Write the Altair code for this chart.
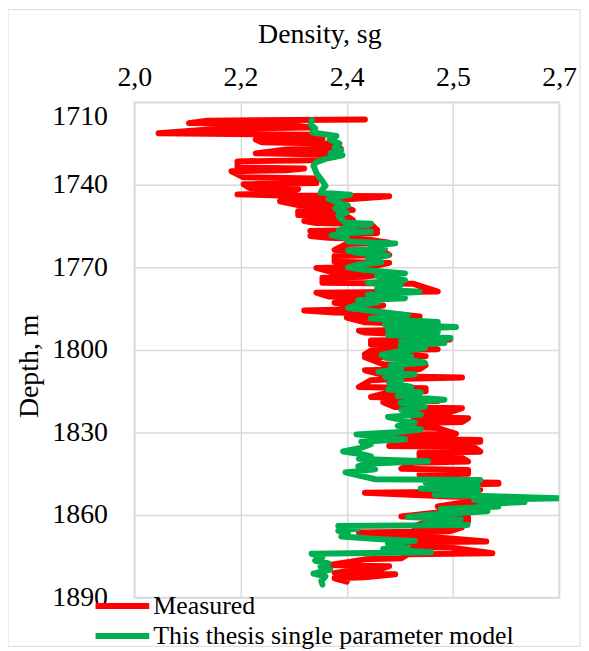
import altair as alt
import pandas as pd

# ---------------- data ----------------
series_names = ["Measured", "This thesis single parameter model"]
series_colors = ["#ff0000", "#00b050"]

density_ticks = [2.0, 2.175, 2.35, 2.525, 2.7]
density_tick_labels = ["2,0", "2,2", "2,4", "2,5", "2,7"]
depth_ticks = [1710, 1740, 1770, 1800, 1830, 1860, 1890]

meas_depth = [
    1716.3, 1716.7, 1717.6, 1718.1, 1719.2, 1719.6, 1721.3, 1721.8, 1723.2, 1723.6,
    1724.6, 1725.0, 1726.8, 1727.2, 1728.6, 1729.0, 1731.1, 1731.5, 1733.7, 1734.1,
    1734.7, 1735.1, 1737.3, 1737.7, 1739.4, 1739.8, 1741.2, 1741.6, 1743.1, 1743.5,
    1743.9, 1744.2, 1745.6, 1746.0, 1747.4, 1747.8, 1749.2, 1749.6, 1751.0, 1751.4,
    1752.8, 1753.2, 1753.9, 1754.3, 1756.4, 1756.8, 1757.1, 1757.5, 1758.2, 1758.6,
    1759.3, 1759.7, 1761.1, 1761.5, 1763.7, 1764.1, 1765.5, 1765.9, 1768.0, 1768.4,
    1769.8, 1770.2, 1772.0, 1772.4, 1773.4, 1773.8, 1775.6, 1776.0, 1778.8, 1779.2,
    1780.6, 1781.0, 1782.5, 1782.9, 1783.5, 1783.9, 1785.3, 1785.7, 1786.4, 1786.8,
    1787.9, 1788.3, 1790.0, 1790.4, 1792.6, 1793.0, 1793.7, 1794.1, 1796.2, 1796.6,
    1798.0, 1798.4, 1799.8, 1800.2, 1801.6, 1802.0, 1802.3, 1802.7, 1805.2, 1805.6,
    1807.0, 1807.4, 1809.6, 1810.0, 1810.6, 1811.0, 1813.5, 1813.9, 1815.0, 1815.4,
    1817.1, 1817.5, 1818.6, 1819.0, 1820.8, 1821.2, 1822.6, 1823.0, 1824.4, 1824.8,
    1826.2, 1826.6, 1828.0, 1828.4, 1830.5, 1830.9, 1832.3, 1832.7, 1833.4, 1833.8,
    1834.9, 1835.3, 1837.0, 1837.4, 1838.8, 1839.2, 1840.6, 1841.0, 1843.2, 1843.6,
    1845.0, 1845.4, 1846.8, 1847.2, 1847.9, 1848.3, 1848.6, 1849.0, 1850.4, 1850.8,
    1851.5, 1851.9, 1853.3, 1853.7, 1855.1, 1855.5, 1856.9, 1857.3, 1858.7, 1859.1,
    1860.5, 1860.9, 1862.3, 1862.7, 1864.1, 1864.5, 1865.9, 1866.3, 1867.8, 1868.2,
    1869.6, 1870.0, 1871.4, 1871.8, 1873.9, 1874.3, 1875.7, 1876.1, 1878.2, 1878.6,
    1880.0, 1880.4, 1881.1, 1881.5, 1882.6, 1883.0, 1884.2,
]
meas_density = [
    2.38, 2.12, 2.09, 2.25, 2.29, 2.14, 2.04, 2.29, 2.31, 2.20,
    2.21, 2.32, 2.34, 2.25, 2.20, 2.32, 2.30, 2.17, 2.17, 2.28,
    2.25, 2.16, 2.18, 2.30, 2.30, 2.18, 2.19, 2.27, 2.25, 2.17,
    2.24, 2.42, 2.33, 2.24, 2.27, 2.34, 2.36, 2.27, 2.27, 2.35,
    2.36, 2.28, 2.30, 2.39, 2.40, 2.29, 2.31, 2.40, 2.35, 2.29,
    2.32, 2.38, 2.42, 2.35, 2.33, 2.41, 2.42, 2.33, 2.33, 2.42,
    2.39, 2.30, 2.33, 2.41, 2.38, 2.31, 2.31, 2.46, 2.50, 2.30,
    2.32, 2.39, 2.38, 2.33, 2.35, 2.41, 2.35, 2.28, 2.33, 2.42,
    2.47, 2.35, 2.38, 2.44, 2.48, 2.37, 2.38, 2.43, 2.52, 2.39,
    2.39, 2.46, 2.50, 2.39, 2.38, 2.46, 2.48, 2.38, 2.41, 2.48,
    2.47, 2.38, 2.42, 2.54, 2.43, 2.39, 2.37, 2.48, 2.48, 2.42,
    2.39, 2.44, 2.50, 2.41, 2.43, 2.54, 2.52, 2.46, 2.46, 2.55,
    2.54, 2.46, 2.45, 2.50, 2.53, 2.41, 2.46, 2.57, 2.57, 2.47,
    2.42, 2.56, 2.57, 2.47, 2.47, 2.54, 2.55, 2.46, 2.44, 2.55,
    2.55, 2.47, 2.50, 2.53, 2.49, 2.60, 2.60, 2.52, 2.52, 2.57,
    2.53, 2.38, 2.52, 2.60, 2.59, 2.54, 2.50, 2.56, 2.55, 2.50,
    2.44, 2.55, 2.55, 2.48, 2.46, 2.54, 2.52, 2.37, 2.41, 2.50,
    2.58, 2.42, 2.43, 2.52, 2.59, 2.45, 2.44, 2.38, 2.32, 2.42,
    2.40, 2.35, 2.33, 2.43, 2.38, 2.33, 2.35,
]

model_depth = [
    1716.5, 1718.0, 1719.5, 1721.0, 1722.3, 1723.6, 1725.0, 1726.4, 1727.5, 1728.6,
    1729.3, 1730.6, 1731.8, 1733.1, 1734.5, 1735.7, 1737.0, 1737.8, 1739.0, 1740.4,
    1741.6, 1742.9, 1743.6, 1744.3, 1745.1, 1746.4, 1747.6, 1748.5, 1749.4, 1750.1,
    1751.2, 1752.3, 1753.8, 1754.2, 1755.2, 1756.6, 1757.1, 1757.6, 1758.4, 1759.5,
    1760.6, 1761.3, 1762.2, 1763.2, 1763.9, 1764.8, 1765.7, 1766.8, 1768.2, 1769.0,
    1770.0, 1771.0, 1772.2, 1773.2, 1774.7, 1775.6, 1776.5, 1777.8, 1779.0, 1779.9,
    1781.2, 1782.0, 1782.7, 1783.8, 1784.8, 1785.8, 1787.4, 1788.6, 1789.9, 1790.8,
    1791.7, 1792.6, 1793.5, 1794.6, 1795.7, 1796.6, 1797.5, 1798.4, 1799.3, 1800.6,
    1801.8, 1802.3, 1802.9, 1803.8, 1804.7, 1805.6, 1806.8, 1808.0, 1808.9, 1809.8,
    1811.0, 1812.2, 1813.4, 1814.4, 1815.5, 1816.8, 1818.1, 1819.3, 1820.6, 1821.8,
    1823.5, 1824.4, 1825.4, 1826.4, 1827.6, 1828.9, 1829.8, 1830.7, 1831.6, 1832.5,
    1833.4, 1834.3, 1835.6, 1836.9, 1837.8, 1838.7, 1839.6, 1840.5, 1841.4, 1842.3,
    1843.4, 1844.5, 1845.6, 1847.0, 1847.3, 1848.2, 1849.5, 1850.4, 1851.3, 1852.6,
    1853.9, 1854.5, 1855.3, 1856.0, 1856.9, 1857.8, 1858.6, 1859.6, 1860.7, 1861.6,
    1862.6, 1863.6, 1864.0, 1864.9, 1865.8, 1866.9, 1867.8, 1868.7, 1869.4, 1870.3,
    1871.2, 1872.3, 1873.5, 1874.1, 1875.2, 1876.6, 1877.6, 1878.8, 1879.8, 1881.3,
    1882.3, 1883.9, 1885.3,
]
model_density = [
    2.293, 2.290, 2.298, 2.293, 2.333, 2.322, 2.338, 2.330, 2.341, 2.323,
    2.343, 2.315, 2.300, 2.295, 2.298, 2.300, 2.304, 2.307, 2.311, 2.315,
    2.310, 2.307, 2.356, 2.340, 2.320, 2.335, 2.352, 2.331, 2.336, 2.350,
    2.336, 2.340, 2.348, 2.390, 2.352, 2.337, 2.390, 2.345, 2.325, 2.350,
    2.352, 2.430, 2.390, 2.413, 2.352, 2.369, 2.418, 2.385, 2.407, 2.369,
    2.352, 2.380, 2.446, 2.400, 2.446, 2.385, 2.439, 2.400, 2.470, 2.385,
    2.446, 2.369, 2.402, 2.364, 2.352, 2.390, 2.451, 2.390, 2.500, 2.413,
    2.530, 2.418, 2.500, 2.418, 2.521, 2.440, 2.511, 2.439, 2.479, 2.434,
    2.407, 2.456, 2.413, 2.459, 2.479, 2.423, 2.440, 2.402, 2.462, 2.413,
    2.440, 2.420, 2.456, 2.418, 2.472, 2.434, 2.511, 2.439, 2.479, 2.440,
    2.472, 2.418, 2.440, 2.462, 2.434, 2.472, 2.439, 2.366, 2.400, 2.446,
    2.374, 2.390, 2.373, 2.344, 2.373, 2.390, 2.370, 2.484, 2.380, 2.369,
    2.397, 2.348, 2.369, 2.397, 2.570, 2.480, 2.566, 2.472, 2.566, 2.495,
    2.700, 2.560, 2.643, 2.570, 2.600, 2.505, 2.582, 2.500, 2.451, 2.538,
    2.480, 2.549, 2.336, 2.369, 2.336, 2.352, 2.341, 2.400, 2.462, 2.418,
    2.451, 2.410, 2.489, 2.292, 2.310, 2.298, 2.320, 2.307, 2.323, 2.295,
    2.315, 2.308, 2.310,
]

assert len(meas_depth) == len(meas_density)
assert len(model_depth) == len(model_density)

df = pd.concat([
    pd.DataFrame({"series": series_names[0], "depth": meas_depth,
                  "density": meas_density, "i": range(len(meas_depth))}),
    pd.DataFrame({"series": series_names[1], "depth": model_depth,
                  "density": model_density, "i": range(len(model_depth))}),
], ignore_index=True)

FONT = "Liberation Serif"
GRID = "#d9d9d9"

label_expr = "[{}][indexof([{}], datum.value)]".format(
    ",".join("'%s'" % s for s in density_tick_labels),
    ",".join(repr(v) for v in density_ticks),
)

lines = alt.Chart(df).mark_line(
    strokeWidth=6, strokeCap="round", strokeJoin="round", clip=True
).encode(
    x=alt.X(
        "density:Q",
        scale=alt.Scale(domain=[2.0, 2.7], nice=False, zero=False),
        axis=alt.Axis(
            orient="top", values=density_ticks, labelExpr=label_expr,
            title="Density, sg", titleX=186, titleY=-60, titleAlign="center",
            titleBaseline="alphabetic", labelPadding=17, labelBaseline="alphabetic",
            labelFlush=False, labelOverlap=False, labelBound=False,
        ),
    ),
    y=alt.Y(
        "depth:Q",
        scale=alt.Scale(domain=[1710, 1890], reverse=True, nice=False, zero=False),
        axis=alt.Axis(
            values=depth_ticks, format="d", title="Depth, m",
            titleX=-97, titleY=265, titleAngle=-90, titleAlign="center",
            titleBaseline="alphabetic", labelPadding=27, labelBaseline="middle",
            labelOffset=alt.ExprRef("datum.value == 1710 ? 14 : 0"),
            labelFlush=False, labelOverlap=False, labelBound=False,
        ),
    ),
    color=alt.Color(
        "series:N",
        scale=alt.Scale(domain=series_names, range=series_colors),
        legend=alt.Legend(
            orient="none", legendX=-28.5, legendY=490, title=None,
            direction="vertical", symbolType="M-2,0H2", symbolSize=729,
            symbolStrokeWidth=6, labelFont=FONT, labelFontSize=26,
            labelColor="#000000", labelOffset=14.5, labelLimit=0,
            rowPadding=0, padding=0,
        ),
    ),
    order=alt.Order("i:Q"),
)

frame = alt.Chart(pd.DataFrame({"k": [0]})).mark_rect(
    fill="#ffffff", fillOpacity=0, stroke=GRID, strokeWidth=1
).encode(
    x=alt.value(-127), x2=alt.value(448), y=alt.value(-93), y2=alt.value(547)
)

chart = alt.layer(frame, lines).properties(
    width=427, height=498,
    padding={"left": 127, "top": 93, "right": 22, "bottom": 51},
    autosize=alt.AutoSizeParams(type="none"),
).configure_view(
    stroke=GRID, strokeWidth=1.5
).configure_axis(
    grid=True, gridColor=GRID, gridWidth=1.5, domain=False, ticks=False, tickSize=0,
    labelFont=FONT, labelFontSize=28, labelColor="#000000",
    titleFont=FONT, titleFontSize=28, titleFontWeight="normal", titleColor="#000000",
)

chart.save("out.html", embed_options={"renderer": "svg", "actions": False})
